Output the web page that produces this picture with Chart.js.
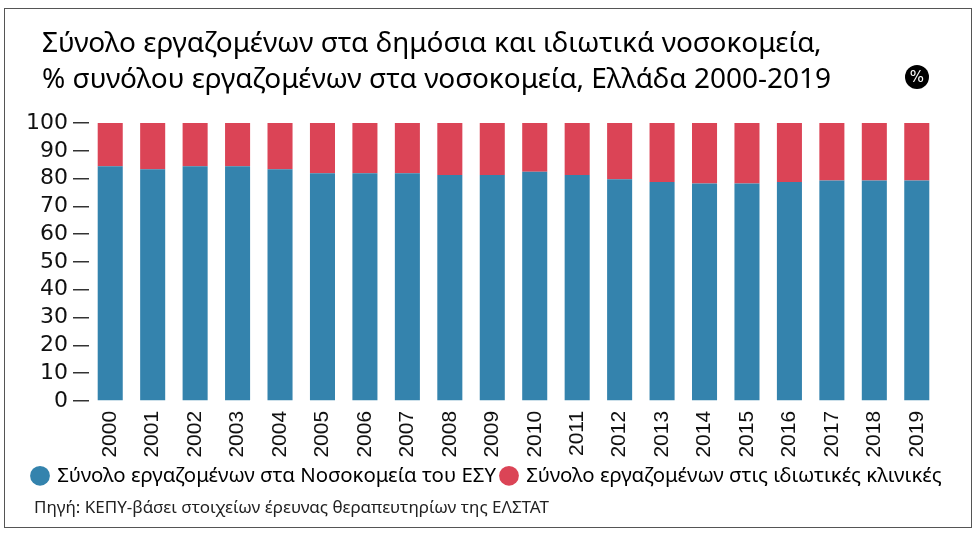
<!DOCTYPE html>
<html>
<head>
<meta charset="utf-8">
<script src="https://cdn.jsdelivr.net/npm/chart.js@4.4.1/dist/chart.umd.min.js"></script>
<style>
  html, body { margin: 0; padding: 0; background: #fff; }
  #frame { position: absolute; left: 4px; top: 8px; width: 966px; height: 518px; border: 1px solid #555; }
  #frame canvas { position: absolute; left: 0; top: 0; }
  .title { position: absolute; left: 37px; font-family: "Noto Sans", sans-serif; font-size: 28px; color: #000; white-space: nowrap; line-height: 1; }
  #pct { position: absolute; left: 900px; top: 56px; width: 24px; height: 24px; border-radius: 50%; background: #000; color: #fff;
         font-family: "DejaVu Sans", sans-serif; font-size: 15px; line-height: 24px; text-align: center; }
  #source { position: absolute; left: 29px; top: 486px; font-family: "Noto Sans", sans-serif; font-size: 17px; color: #222; white-space: nowrap; }
</style>
</head>
<body>
<div id="frame">
  <canvas id="chart" width="966" height="518"></canvas>
  <div class="title" style="top:18px">Σύνολο εργαζομένων στα δημόσια και ιδιωτικά νοσοκομεία,</div>
  <div class="title" style="top:54px">% συνόλου εργαζομένων στα νοσοκομεία, Ελλάδα 2000-2019</div>
  <div id="pct">%</div>
  <div id="source">Πηγή: ΚΕΠΥ-βάσει στοιχείων έρευνας θεραπευτηρίων της ΕΛΣΤΑΤ</div>
</div>
<script>
var years = ["2000","2001","2002","2003","2004","2005","2006","2007","2008","2009",
             "2010","2011","2012","2013","2014","2015","2016","2017","2018","2019"];
var publicShare = [84.4, 83.4, 84.4, 84.4, 83.4, 81.9, 81.9, 81.9, 81.3, 81.3,
                   82.5, 81.3, 79.8, 78.8, 78.2, 78.2, 78.8, 79.3, 79.3, 79.3];
var privateShare = [15.6, 16.6, 15.6, 15.6, 16.6, 18.1, 18.1, 18.1, 18.7, 18.7,
                    17.5, 18.7, 20.2, 21.2, 21.8, 21.8, 21.2, 20.7, 20.7, 20.7];
var yTicks = [0, 10, 20, 30, 40, 50, 60, 70, 80, 90, 100];

var blue = "#3483ad";
var red = "#db4456";

var ctx = document.getElementById("chart");
var chart = new Chart(ctx, {
      type: 'bar',
      data: {
            labels: years,
            datasets: [
            {
                  label: "Σύνολο εργαζομένων στα Νοσοκομεία του ΕΣΥ",
                  data: publicShare,
                  backgroundColor: blue,
                  barPercentage: 0.59,
                  categoryPercentage: 1
            },
            {
                  label: "Σύνολο εργαζομένων στις ιδιωτικές κλινικές",
                  data: privateShare,
                  backgroundColor: red,
                  barPercentage: 0.59,
                  categoryPercentage: 1
            }]
      },
      options: {
            responsive: false,
            animation: false,
            layout: { padding: { top: 114, left: 22, right: 18, bottom: 31 } },
            plugins: {
                  tooltip: { enabled: false },
                  legend: {
                        position: 'bottom',
                        align: 'start',
                        labels: {
                              usePointStyle: true,
                              pointStyle: 'circle',
                              boxWidth: 14,
                              boxHeight: 14,
                              padding: 6,
                              color: '#000',
                              font: { family: 'Noto Sans', size: 20.4 }
                        }
                  }
            },
            scales: {
                  x: {
                        stacked: true,
                        grid: { display: false },
                        border: { display: false },
                        ticks: {
                              minRotation: 90, maxRotation: 90,
                              padding: 2,
                              color: '#111',
                              font: { family: 'Liberation Sans', size: 21 }
                        }
                  },
                  y: {
                        stacked: true,
                        min: 0, max: 100,
                        afterBuildTicks: function(axis){
                              axis.ticks = yTicks.map(function(v){ return { value: v }; });
                        },
                        afterFit: function(s){ s.width = 62; },
                        grid: { drawOnChartArea: false, drawTicks: true, tickLength: 16, color: '#333', lineWidth: 1.5 },
                        border: { display: false },
                        ticks: {
                              autoSkip: false,
                              padding: 5,
                              color: '#111',
                              font: { family: 'DejaVu Sans', size: 22 }
                        }
                  },
                  // empty strip on the right so the plot ends where the original does
                  gap: {
                        position: 'right',
                        display: true,
                        grid: { display: false },
                        border: { display: false },
                        ticks: { display: false },
                        afterFit: function(s){ s.width = 15; }
                  }
            }
      }
});
</script>
</body>
</html>
